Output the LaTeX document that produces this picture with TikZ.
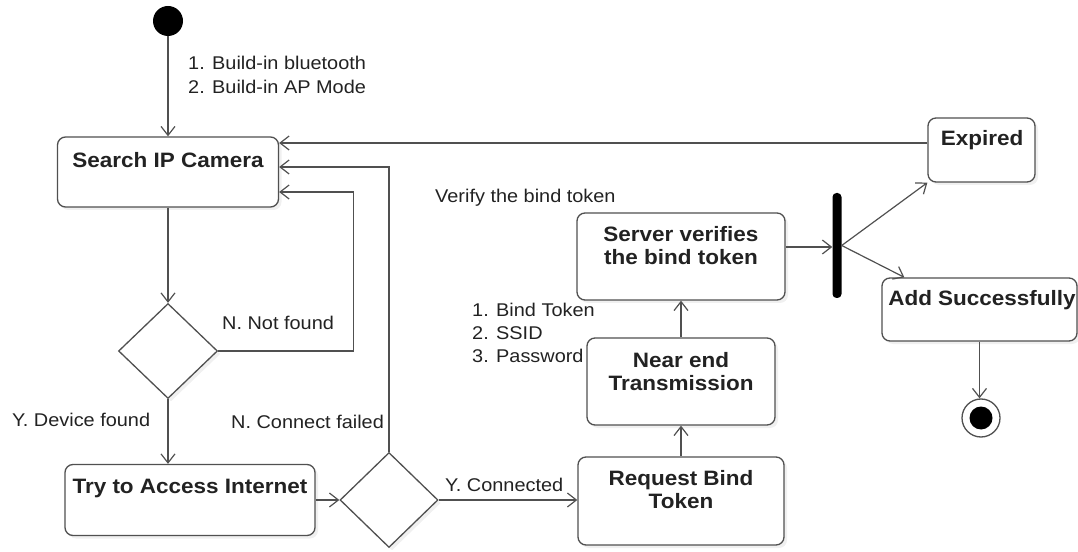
\documentclass[tikz,border=0pt]{standalone}
\usepackage{fontspec}
\setmainfont{Liberation Sans}[FakeStretch=1.08]
\usetikzlibrary{arrows.meta,shapes.geometric,shadows}

\definecolor{linec}{HTML}{505050}
\definecolor{textc}{HTML}{222222}

\begin{document}
\begin{tikzpicture}[x=1bp,y=-1bp,
  every node/.style={text=textc},
  box/.style={draw=linec, line width=1.3bp, rounded corners=8bp, fill=white,
    drop shadow={shadow xshift=3bp, shadow yshift=-3bp, opacity=0.12}},
  title/.style={font=\bfseries\fontsize{20.9}{23}\selectfont, align=center, inner sep=0pt},
  note/.style={font=\fontsize{18.5}{24}\selectfont, align=left, inner sep=0pt},
  choice/.style={diamond, draw=linec, line width=1.3bp, fill=white, inner sep=0pt,
    drop shadow={shadow xshift=3bp, shadow yshift=-3bp, opacity=0.12}},
  arr/.style={draw=linec, line width=1.2bp, -{Straight Barb[length=9bp,width=14bp]}},
]
\useasboundingbox (0,0) rectangle (1078,552);

% initial and final states
\node[circle, fill=black, minimum size=30bp, inner sep=0pt] (start) at (168,21) {};
\node[circle, draw=linec, line width=1.3bp, fill=white, minimum size=38bp, inner sep=0pt] (end) at (981,418) {};
\node[circle, fill=black, minimum size=23bp, inner sep=0pt] (endin) at (end.center) {};

% actions
\node[box, minimum width=221bp, minimum height=70bp] (search) at (168,172) {};
\node[title] (search-t) at (168,160) {Search IP Camera};

\node[box, minimum width=250bp, minimum height=71bp] (try) at (190,500) {};
\node[title] (try-t) at (190,488) {Try to Access Internet};

\node[box, minimum width=206bp, minimum height=88bp] (request) at (681,501) {};
\node[title] (request-t) at (681,490) {Request Bind\\Token};

\node[box, minimum width=188bp, minimum height=87bp] (near) at (681,381.5) {};
\node[title] (near-t) at (681,371.5) {Near end\\Transmission};

\node[box, minimum width=208bp, minimum height=87bp] (server) at (681,256.5) {};
\node[title] (server-t) at (681,246) {Server verifies\\the bind token};

\node[box, minimum width=107bp, minimum height=64bp] (expired) at (981.5,150) {};
\node[title] (expired-t) at (982,140) {Expired};

\node[box, minimum width=195bp, minimum height=63bp] (add) at (979.5,309.5) {};
\node[title] (add-t) at (982,300) {Add Successfully};

% decisions
\node[choice, minimum width=99bp, minimum height=95bp] (d1) at (168,351) {};
\node[choice, minimum width=98bp, minimum height=95bp] (d2) at (389,500) {};

% fork bar
\node[fill=black, rounded corners=4bp, minimum width=9bp, minimum height=105bp, inner sep=0pt] (fork) at (837,245.5) {};

% notes
\node[note, anchor=west] (n-start) at (188,75) {1. Build-in bluetooth\\2. Build-in AP Mode};
\node[note, anchor=west] (n-notfound) at (222,323) {N. Not found};
\node[note, anchor=west] (n-found) at (12,420) {Y. Device found};
\node[note, anchor=west] (n-failed) at (231,422) {N. Connect failed};
\node[note, anchor=west] (n-conn) at (445,485) {Y. Connected};
\node[note, anchor=west] (n-verify) at (435,198) {Verify the bind token};
\node[note, anchor=west, font=\fontsize{18.5}{23}\selectfont] (n-data) at (472,333) {1. Bind Token\\2. SSID\\3. Password};

% transitions
\draw[arr] (start) -- (search);
\draw[arr] (search.south) -- (d1.north);
\draw[arr] (d1.east) -- ++(135.5,0) |- ([yshift=-20bp]search.east);
\draw[arr] (d1.south) -- (d1.south |- try.north);
\draw[arr] (try.east) -- (d2.west);
\draw[arr] (d2.north) |- ([yshift=5bp]search.east);
\draw[arr] (d2.east) -- (d2.east -| request.west);
\draw[arr] (request.north) -- (near.south);
\draw[arr] (near.north) -- (server.south);
\draw[arr] ([yshift=9.5bp]server.east) -- ([yshift=9.5bp]server.east -| fork.west);
\draw[arr] (fork.east) -- (expired.south west);
\draw[arr] (fork.east) -- ([xshift=23bp]add.north west);
\draw[arr] ([yshift=7bp]expired.west) -- ([yshift=7bp]expired.west -| search.east);
\draw[arr] (add.south) -- (add.south |- end.north);
\end{tikzpicture}
\end{document}
